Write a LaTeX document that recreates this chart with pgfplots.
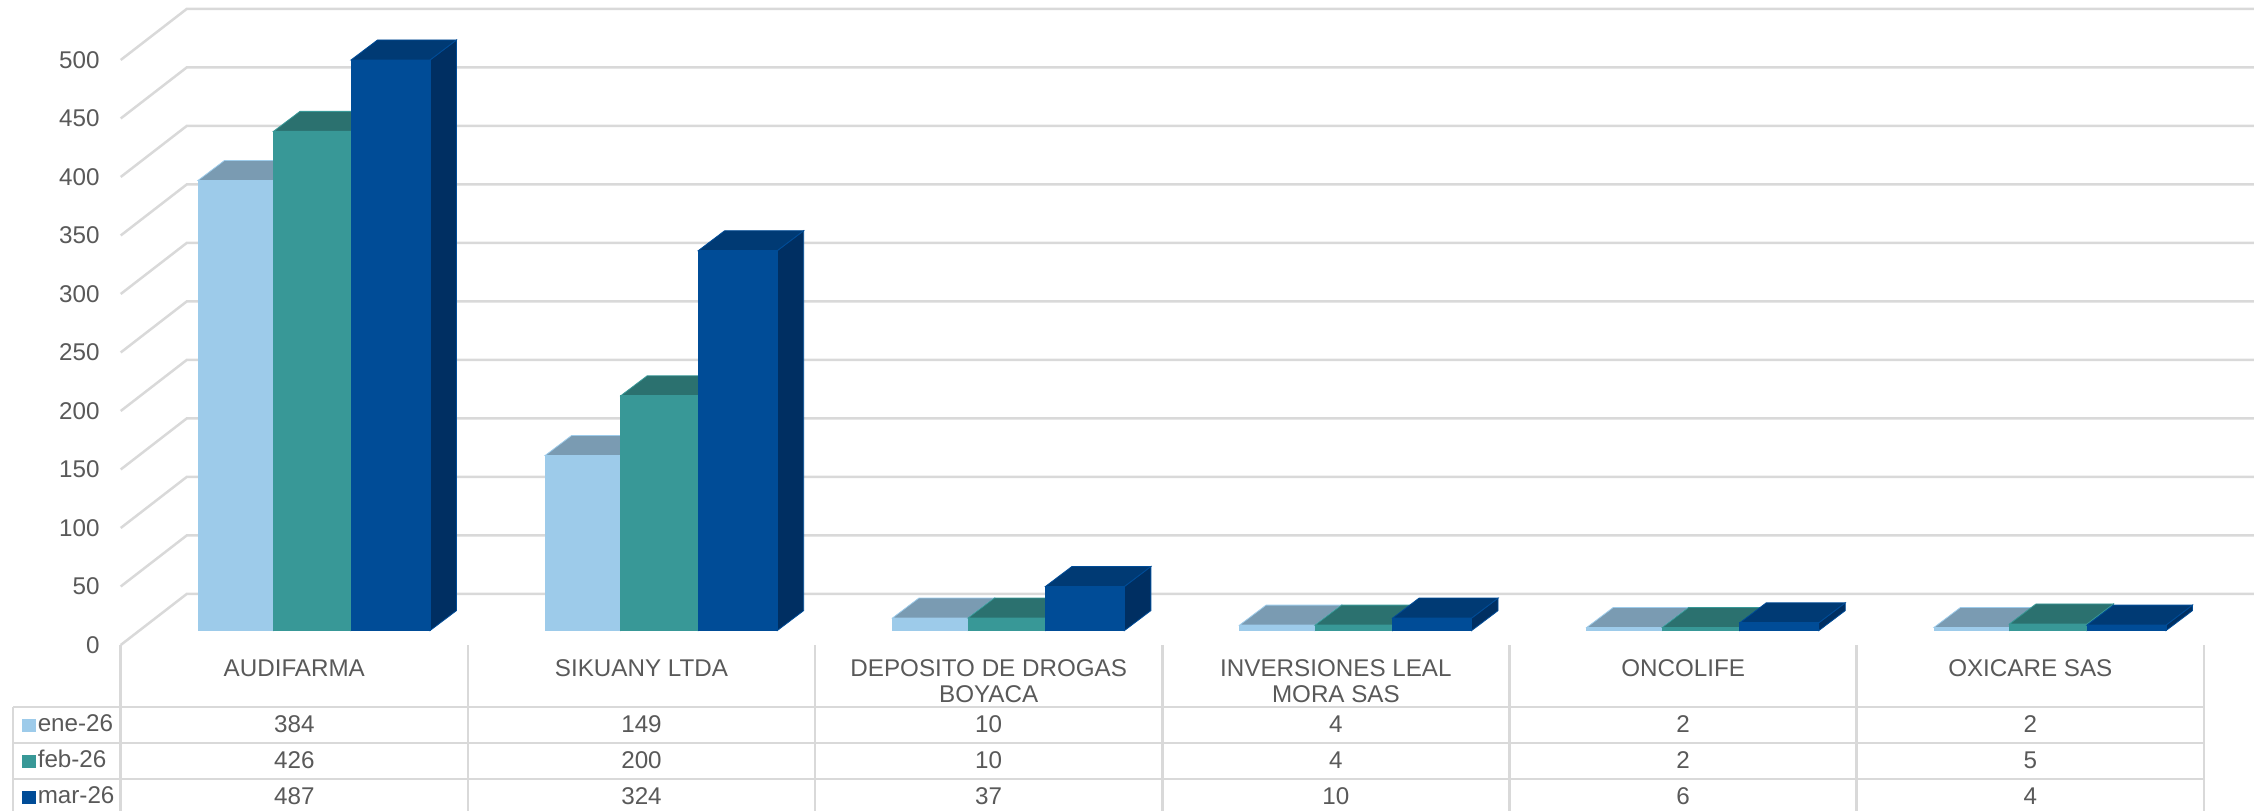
\documentclass[border=0pt]{standalone}
\usepackage{fontspec}
\setmainfont{Liberation Sans}
\usepackage{pgfplots}
\usepackage{pgfplotstable}
\pgfplotsset{compat=1.18}

\definecolor{gridc}{HTML}{D9D9D9}
\definecolor{txt}{HTML}{595959}
\definecolor{eneF}{HTML}{9DCBEA}
\definecolor{eneT}{HTML}{7A9BB2}
\definecolor{eneS}{HTML}{6E8FA5}
\definecolor{febF}{HTML}{389897}
\definecolor{febT}{HTML}{2B716F}
\definecolor{febS}{HTML}{255E5D}
\definecolor{marF}{HTML}{004C97}
\definecolor{marT}{HTML}{003A74}
\definecolor{marS}{HTML}{002F62}

\pgfplotstableread{
ene feb mar
384 426 487
149 200 324
10 10 37
4 4 10
2 2 6
2 5 4
}\bardata

\newcommand{\chartfont}{\fontsize{12.1pt}{13pt}\selectfont}

% row, x offset in group, bar width, column name, front, top, side
\newcommand{\boxbar}[7]{%
  \pgfplotstablegetelem{#1}{#4}\of\bardata
  \pgfmathsetmacro\xa{#1+0.2226+#2}
  \pgfmathsetmacro\xb{\xa+#3}
  \pgfmathsetmacro\xc{\xa+0.0763}
  \pgfmathsetmacro\xd{\xb+0.0763}
  \pgfmathsetmacro\ya{12.3}
  \pgfmathsetmacro\yb{13+\pgfplotsretval}
  \pgfmathsetmacro\yc{\ya+17.1}
  \pgfmathsetmacro\yd{\yb+17.1}
  \addplot[forget plot,fill=#7,draw=#5,line width=0.4pt] coordinates {(\xb,\ya) (\xd,\yc) (\xd,\yd) (\xb,\yb)} -- cycle;
  \addplot[forget plot,fill=#6,draw=#5,line width=0.4pt] coordinates {(\xa,\yb) (\xb,\yb) (\xd,\yd) (\xc,\yd)} -- cycle;
  \addplot[forget plot,fill=#5,draw=#5,line width=0.4pt] coordinates {(\xa,\ya) (\xb,\ya) (\xb,\yb) (\xa,\yb)} -- cycle;
}

% table cell: row, column name, y centre
\newcommand{\cellval}[3]{%
  \pgfplotstablegetelem{#1}{#2}\of\bardata
  \pgfmathsetmacro\xm{#1+0.5}
  \edef\tmp{\noexpand\node[text=txt,font=\noexpand\chartfont,inner sep=0pt] at (axis cs:\xm,#3) {\pgfplotsretval};}
  \tmp
}

\begin{document}
\begin{tikzpicture}
\path[use as bounding box] (0,0) rectangle (1127pt,405.5pt);
\begin{axis}[
    at={(60.35pt,83pt)},
    anchor=south west,
    x=173.6pt,
    y=0.585pt,
    xmin=0, xmax=6,
    ymin=0, ymax=500,
    clip=false,
    axis line style={draw=none},
    major tick length=0pt,
    tick style={draw=none},
    ytick={0,50,...,500},
    xtick={0.5,1.5,2.5,3.5,4.5,5.5},
    xticklabels={AUDIFARMA,SIKUANY LTDA,{DEPOSITO DE DROGAS\\BOYACA},{INVERSIONES LEAL\\MORA SAS},ONCOLIFE,OXICARE SAS},
    /pgf/number format/assume math mode=true,
    y tick label style={text=txt,font=\chartfont,inner sep=0pt,xshift=-10.4pt},
    x tick label style={text=txt,font=\chartfont,align=center,anchor=north,inner sep=0pt,yshift=-7.1pt},
    legend cell align=left,
    legend style={
        at={(axis cs:-0.2855,-99.5)},anchor=west,
        draw=none,fill=none,
        font=\chartfont,text=txt,
        row sep=6pt,inner sep=0pt,
        /tikz/column sep=1pt,
        nodes={inner sep=0pt,text height=9pt,text depth=3pt},
    },
]
% back wall and side wall lines
\pgfplotsforeachungrouped \v in {0,50,...,500}{
  \pgfmathsetmacro\vb{\v+43.6}
  \addplot[forget plot,gridc,line width=1.25pt] coordinates {(0,\v) (0.19,\vb) (6.144,\vb)};
}

% bars, left to right so that later faces cover earlier ones
\pgfplotsforeachungrouped \r in {0,...,5}{
  \boxbar{\r}{0}{0.2175}{ene}{eneF}{eneT}{eneS}
  \boxbar{\r}{0.2175}{0.2232}{feb}{febF}{febT}{febS}
  \boxbar{\r}{0.4407}{0.2275}{mar}{marF}{marT}{marS}
}

% data table rules
\draw[gridc,line width=1.25pt] (axis cs:-0.31,-53) -- (axis cs:6,-53);
\draw[gridc,line width=1.25pt] (axis cs:-0.31,-83.8) -- (axis cs:6,-83.8);
\draw[gridc,line width=1.25pt] (axis cs:-0.31,-114.6) -- (axis cs:6,-114.6);
\draw[gridc,line width=1.25pt] (axis cs:-0.31,-53) -- (axis cs:-0.31,-141.9);
\pgfplotsforeachungrouped \c in {0,...,6}{
  \edef\tmp{\noexpand\draw[gridc,line width=1.25pt] (axis cs:\c,0) -- (axis cs:\c,-141.9);}
  \tmp
}

% data table values
\pgfplotsforeachungrouped \r in {0,...,5}{
  \cellval{\r}{ene}{-67.5}
  \cellval{\r}{feb}{-98.6}
  \cellval{\r}{mar}{-129.2}
}

\addlegendimage{legend image code/.code={\fill[eneF] (-1.5pt,-3.2pt) rectangle (5pt,3.2pt);}}
\addlegendentry{ene-26}
\addlegendimage{legend image code/.code={\fill[febF] (-1.5pt,-3.2pt) rectangle (5pt,3.2pt);}}
\addlegendentry{feb-26}
\addlegendimage{legend image code/.code={\fill[marF] (-1.5pt,-3.2pt) rectangle (5pt,3.2pt);}}
\addlegendentry{mar-26}
\end{axis}
\end{tikzpicture}
\end{document}
